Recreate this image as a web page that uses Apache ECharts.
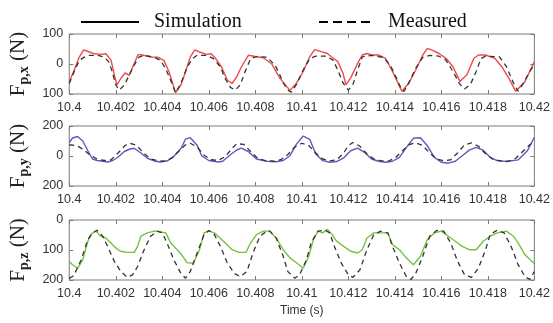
<!DOCTYPE html>
<html>
<head>
<meta charset="utf-8">
<script src="https://cdn.jsdelivr.net/npm/echarts@6/dist/echarts.min.js"></script>
<style>
  html, body { margin: 0; padding: 0; background: #fff; }
  #chart { width: 553px; height: 323px; }
</style>
</head>
<body>
<div id="chart"></div>
<script>
// time offsets in ms from 10.4 s, force in N
const t0 = 10.4;

const simX = [[0,-59],[0.21,-21],[0.43,23],[0.62,47],[0.87,40],[1.08,34],[1.37,32],[1.58,34],[1.8,12],[1.94,-37],[2.05,-70],[2.22,-48],[2.4,-30],[2.58,-37],[2.79,1],[2.96,32],[3.2,29],[3.5,23],[3.8,23],[4.07,12],[4.29,-26],[4.57,-96],[4.8,-70],[5.0,-26],[5.2,23],[5.4,47],[5.6,40],[5.9,32],[6.1,34],[6.3,18],[6.55,-10],[6.8,-54],[7.0,-65],[7.2,-43],[7.4,-10],[7.7,29],[8.0,25],[8.35,21],[8.7,1],[9.06,-48],[9.49,-88],[9.77,-64],[10.06,-25],[10.34,24],[10.55,48],[10.84,41],[11.1,35],[11.27,24],[11.55,8],[11.77,-31],[11.9,-69],[12.1,-47],[12.4,2],[12.6,30],[12.8,35],[13.0,30],[13.3,30],[13.6,19],[13.9,-25],[14.1,-58],[14.3,-91],[14.6,-64],[14.9,-20],[15.2,30],[15.4,52],[15.6,46],[15.9,35],[16.2,19],[16.5,-9],[16.8,-58],[17.1,-36],[17.4,19],[17.6,30],[17.9,30],[18.3,19],[18.6,-9],[18.9,-47],[19.2,-91],[19.6,-58],[19.8,-25],[20.0,8]];
const measX = [[0,-65],[0.21,-26],[0.43,12],[0.65,23],[0.87,29],[1.2,29],[1.5,23],[1.7,7],[1.85,-26],[2.0,-70],[2.15,-87],[2.37,-70],[2.58,-37],[2.79,-4],[3.0,23],[3.2,29],[3.65,23],[3.93,12],[4.14,-15],[4.36,-54],[4.57,-96],[4.8,-65],[5.07,-10],[5.3,18],[5.5,29],[5.9,29],[6.2,18],[6.5,-10],[6.7,-48],[6.93,-78],[7.14,-87],[7.35,-70],[7.56,-26],[7.8,18],[8.06,25],[8.5,23],[8.85,-4],[9.06,-37],[9.2,-63],[9.4,-87],[9.55,-94],[9.77,-68],[10.06,-20],[10.34,18],[10.6,26],[11.06,26],[11.34,13],[11.55,-20],[11.77,-63],[12.0,-87],[12.2,-68],[12.4,-20],[12.6,24],[13.0,29],[13.5,22],[13.8,-3],[14.1,-52],[14.3,-87],[14.4,-91],[14.6,-63],[14.9,-14],[15.2,22],[15.5,29],[15.9,26],[16.2,13],[16.5,-25],[16.8,-68],[17.0,-83],[17.25,-68],[17.5,-25],[17.7,18],[17.9,26],[18.5,24],[18.8,-9],[19.1,-63],[19.3,-91],[19.5,-68],[19.8,-25],[20.0,-3]];

const simY = [[0,90],[0.14,120],[0.36,130],[0.58,100],[0.8,35],[1.0,-20],[1.2,-30],[1.45,-35],[1.65,-40],[1.87,-30],[2.08,-10],[2.37,30],[2.58,45],[2.79,52],[3.08,20],[3.36,-15],[3.65,-33],[3.93,-40],[4.22,-32],[4.5,-2],[4.8,50],[5.0,112],[5.2,122],[5.5,72],[5.7,0],[6.0,-30],[6.4,-40],[6.6,-35],[6.9,5],[7.2,40],[7.4,52],[7.7,30],[8.05,-20],[8.5,-35],[8.9,-38],[9.2,-30],[9.49,2],[9.77,79],[10.06,133],[10.34,111],[10.6,13],[10.9,-31],[11.2,-42],[11.5,-37],[11.8,-13],[12.1,35],[12.4,52],[12.7,24],[13.0,-20],[13.3,-35],[13.6,-42],[13.9,-35],[14.2,-9],[14.5,57],[14.8,118],[15.1,122],[15.4,68],[15.7,-9],[16.0,-42],[16.3,-48],[16.6,-35],[16.9,2],[17.2,39],[17.5,57],[17.8,39],[18.1,-9],[18.4,-31],[18.8,-37],[19.3,-26],[19.7,35],[20.0,125]];
const measY = [[0,75],[0.3,70],[0.6,45],[0.9,5],[1.2,-20],[1.5,-30],[1.8,-25],[2.1,20],[2.4,70],[2.6,85],[2.9,70],[3.2,20],[3.5,-20],[3.8,-32],[4.1,-35],[4.4,-15],[4.7,30],[5.0,75],[5.2,85],[5.5,60],[5.8,5],[6.1,-25],[6.4,-30],[6.7,-5],[7.0,50],[7.2,82],[7.5,78],[7.8,30],[8.1,-15],[8.4,-30],[8.8,-35],[9.1,-25],[9.4,10],[9.7,60],[10.0,85],[10.3,70],[10.6,20],[10.9,-20],[11.2,-32],[11.5,-25],[11.8,20],[12.0,70],[12.2,90],[12.5,65],[12.8,15],[13.1,-20],[13.4,-32],[13.7,-35],[14.0,-15],[14.3,30],[14.6,75],[14.9,88],[15.2,70],[15.5,20],[15.8,-20],[16.1,-32],[16.4,-25],[16.7,20],[17.0,75],[17.3,88],[17.6,65],[17.9,15],[18.2,-20],[18.5,-32],[18.9,-35],[19.2,-15],[19.5,30],[19.8,75],[20.0,95]];

const simZ = [[0,-138],[0.14,-149],[0.36,-161],[0.58,-133],[0.8,-71],[0.93,-48],[1.14,-37],[1.25,-45],[1.35,-54],[1.57,-60],[1.78,-76],[2.0,-93],[2.2,-104],[2.5,-108],[2.8,-108],[2.94,-88],[3.08,-54],[3.36,-43],[3.65,-37],[3.93,-40],[4.15,-43],[4.36,-76],[4.64,-99],[4.84,-116],[5.06,-142],[5.34,-144],[5.6,-99],[5.8,-43],[6.0,-37],[6.25,-43],[6.4,-54],[6.7,-76],[7.0,-99],[7.3,-108],[7.6,-108],[7.8,-76],[8.06,-48],[8.35,-37],[8.6,-37],[8.9,-60],[9.2,-99],[9.5,-127],[9.8,-144],[10.06,-161],[10.3,-121],[10.5,-65],[10.7,-37],[10.9,-43],[11.1,-31],[11.3,-48],[11.5,-71],[11.8,-88],[12.1,-104],[12.4,-110],[12.6,-99],[12.8,-60],[13.1,-43],[13.4,-43],[13.7,-43],[13.9,-82],[14.2,-99],[14.5,-127],[14.8,-149],[15.1,-121],[15.4,-65],[15.7,-43],[16.0,-37],[16.3,-54],[16.6,-71],[16.9,-88],[17.2,-99],[17.5,-99],[17.8,-71],[18.1,-54],[18.4,-43],[18.8,-37],[19.1,-54],[19.3,-76],[19.6,-116],[19.9,-138],[20.0,-144]];
const measZ = [[0,-195],[0.2,-185],[0.51,-133],[0.8,-65],[1.0,-43],[1.2,-34],[1.44,-54],[1.65,-88],[1.94,-138],[2.22,-172],[2.5,-191],[2.72,-183],[2.94,-155],[3.22,-99],[3.5,-54],[3.79,-37],[4.0,-43],[4.2,-76],[4.5,-133],[4.8,-178],[5.0,-194],[5.2,-172],[5.5,-110],[5.8,-48],[6.0,-35],[6.2,-43],[6.5,-88],[6.8,-144],[7.1,-178],[7.35,-189],[7.64,-172],[7.9,-110],[8.2,-54],[8.5,-37],[8.63,-37],[8.9,-60],[9.2,-121],[9.4,-172],[9.7,-194],[9.9,-183],[10.2,-133],[10.4,-76],[10.7,-37],[11.0,-34],[11.2,-43],[11.4,-88],[11.7,-144],[12.0,-183],[12.2,-191],[12.5,-166],[12.8,-99],[13.1,-48],[13.4,-37],[13.7,-43],[13.9,-88],[14.2,-144],[14.5,-189],[14.7,-198],[14.9,-178],[15.2,-121],[15.5,-54],[15.8,-35],[16.1,-37],[16.4,-76],[16.7,-138],[17.0,-183],[17.3,-191],[17.6,-160],[17.9,-99],[18.1,-48],[18.4,-34],[18.7,-43],[19.0,-88],[19.3,-149],[19.6,-189],[19.8,-198],[20.0,-172]];

const yRanges = [[-100, 100, 100], [-200, 200, 200], [-200, 0, 100]];
const yNames = ['p,x', 'p,y', 'p,z'];
const simColors = ['#ee4b4b', '#5b5bc0', '#77c23d'];

const chart = echarts.init(document.getElementById('chart'));
const toSec = arr => arr.map(p => [t0 + p[0] / 1000, p[1]]);

const tickStyle = { inside: true, length: 4, lineStyle: { color: '#7a7a7a' } };
const gridTops = [34, 126, 220];
const grids = gridTops.map(top => ({
  left: 68, right: 17, top: top, height: 60,
  show: true, borderColor: '#7a7a7a', borderWidth: 1
}));

const xAxes = [];
const yAxes = [];
gridTops.forEach((top, i) => {
  xAxes.push({
    type: 'value', gridIndex: i, min: 10.4, max: 10.42, interval: 0.002,
    axisLine: { show: false, onZero: false },
    axisTick: tickStyle,
    axisLabel: {
      margin: 7, fontSize: 12.5, color: '#333', fontFamily: 'Liberation Sans',
      formatter: v => String(+v.toFixed(3))
    },
    splitLine: { show: false },
    name: i === 2 ? 'Time (s)' : '',
    nameLocation: 'middle', nameGap: 25,
    nameTextStyle: { fontSize: 12, color: '#333', fontFamily: 'Liberation Sans' }
  });
  xAxes.push({
    type: 'value', gridIndex: i, position: 'top', min: 10.4, max: 10.42, interval: 0.002,
    axisLine: { show: false, onZero: false },
    axisTick: tickStyle,
    axisLabel: { show: false }, splitLine: { show: false }
  });
  const r = yRanges[i];
  yAxes.push({
    type: 'value', gridIndex: i, min: r[0], max: r[1], interval: r[2],
    axisLine: { show: false, onZero: false },
    axisTick: tickStyle,
    axisLabel: {
      margin: 6, fontSize: 12.5, color: '#333', fontFamily: 'Liberation Sans',
      formatter: v => String(Math.abs(v))
    },
    splitLine: { show: false },
    name: '{f|F}{s|' + yNames[i] + '}{f| (N)}',
    nameLocation: 'middle', nameRotate: 90, nameGap: 35,
    nameTextStyle: {
      rich: {
        f: { fontSize: 21, fontFamily: 'Liberation Serif', color: '#222', lineHeight: 26, verticalAlign: 'middle' },
        s: { fontSize: 14, fontFamily: 'Liberation Serif', color: '#222', fontWeight: 'bold', lineHeight: 26, verticalAlign: 'bottom' }
      }
    }
  });
  yAxes.push({
    type: 'value', gridIndex: i, position: 'right', min: r[0], max: r[1], interval: r[2],
    axisLine: { show: false, onZero: false },
    axisTick: tickStyle,
    axisLabel: { show: false }, splitLine: { show: false }
  });
});

const sims = [simX, simY, simZ];
const meas = [measX, measY, measZ];
const series = [];
sims.forEach((d, i) => {
  series.push({
    name: 'sim' + i, type: 'line', xAxisIndex: i * 2, yAxisIndex: i * 2,
    data: toSec(d), showSymbol: false, symbol: 'none',
    lineStyle: { color: simColors[i], width: 1.4 }
  });
  series.push({
    name: 'meas' + i, type: 'line', xAxisIndex: i * 2, yAxisIndex: i * 2,
    data: toSec(meas[i]), showSymbol: false, symbol: 'none',
    lineStyle: { color: '#333', width: 1.3, type: [5, 4] }
  });
});
// legend-only series
series.push({ name: 'Simulation', type: 'line', data: [], symbol: 'none', itemStyle: { color: '#000' }, lineStyle: { color: '#000', width: 2.5 } });
series.push({ name: 'Measured', type: 'line', data: [], symbol: 'none', itemStyle: { color: '#000' }, lineStyle: { color: '#000', width: 2, type: [9, 5] } });

const legendText = { fontFamily: 'Liberation Serif', fontSize: 20, color: '#111', padding: [0, 0, 0, 10] };
chart.setOption({
  animation: false,
  backgroundColor: '#fff',
  grid: grids,
  xAxis: xAxes,
  yAxis: yAxes,
  legend: [
    {
      data: ['Simulation'], left: 75, top: 7, itemWidth: 58, itemHeight: 16,
      itemStyle: { opacity: 0 }, textStyle: legendText
    },
    {
      data: ['Measured'], left: 313, top: 7, itemWidth: 54, itemHeight: 16,
      itemStyle: { opacity: 0 }, textStyle: legendText
    }
  ],
  series: series
});
</script>
</body>
</html>
